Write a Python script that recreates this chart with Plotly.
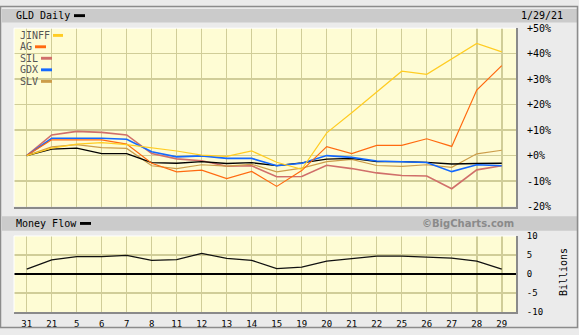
import plotly.graph_objects as go

W, H = 579, 335

dates = ["31", "21", "5", "6", "7", "8", "11", "12", "13", "14",
         "15", "19", "20", "21", "22", "25", "26", "27", "28", "29"]

gld = [0, 2.5, 2.9, 0.8, 0.8, -2.8, -3.0, -2.4, -3.1, -2.8,
       -3.9, -2.9, -1.4, -1.1, -2.4, -2.4, -2.7, -3.3, -3.1, -3.0]
jinff = [0, 2.9, 4.5, 5.1, 4.3, 3.0, 1.8, 0.2, -0.3, 1.8,
         -2.6, -5.4, 8.9, 16.8, 25.1, 33.1, 31.9, 37.9, 44.0, 40.7]
ag = [0, 6.2, 6.2, 6.2, 4.5, -3.0, -6.4, -5.7, -9.0, -6.2,
      -12.1, -5.9, 3.5, 0.8, 4.0, 4.0, 6.6, 3.6, 25.7, 35.3]
sil = [0, 8.1, 9.5, 9.1, 8.1, 0.8, -1.3, -2.0, -4.2, -4.0,
       -8.3, -8.2, -3.8, -5.1, -6.8, -7.8, -8.0, -13.0, -5.6, -4.0]
gdx = [0, 6.8, 6.8, 6.8, 6.4, 1.5, -0.5, -0.1, -1.1, -1.1,
       -4.0, -3.0, 0.0, -0.7, -2.1, -2.5, -2.7, -6.3, -3.6, -4.0]
slv = [0, 3.4, 4.3, 3.1, 2.8, -4.0, -5.1, -3.6, -4.1, -3.4,
       -6.4, -4.9, -2.4, -1.5, -3.9, -4.2, -3.6, -4.6, 0.7, 2.1]
money_flow = [1.3, 3.7, 4.6, 4.6, 4.9, 3.6, 3.8, 5.4, 4.1, 3.6,
              1.4, 1.8, 3.4, 4.0, 4.7, 4.7, 4.4, 4.2, 3.4, 1.3]

pct_ticks = [-20, -10, 0, 10, 20, 30, 40, 50]
pct_text = ["-20%", "-10%", "+0%", "+10%", "+20%", "+30%", "+40%", "+50%"]
mf_ticks = [-10, -5, 0, 5, 10]
mf_text = ["-10", "-5", "0", "5", "10"]

series = [
    ("SIL", sil, "#d06f6a", 1.6),
    ("SLV", slv, "#cc9d4a", 1.2),
    ("GLD", gld, "#000000", 1.3),
    ("GDX", gdx, "#1469ff", 1.6),
    ("AG", ag, "#ff6a10", 1.2),
    ("JINFF", jinff, "#ffcc22", 1.2),
]

idx = list(range(len(dates)))

BG = "#ebebeb"
BAND = "#cbcbcb"
PLOTBG = "#fefcd4"
GRID = "#d0cd98"
EDGE = "#8a8a8a"
MONO = "DejaVu Sans Mono"

fig = go.Figure()
for name, vals, col, w in series:
    fig.add_trace(go.Scatter(x=idx, y=vals, mode="lines", name=name,
                             line=dict(color=col, width=w),
                             xaxis="x", yaxis="y", hoverinfo="skip"))
fig.add_trace(go.Scatter(x=idx, y=money_flow, mode="lines", name="Money Flow",
                         line=dict(color="#111111", width=1.3),
                         xaxis="x2", yaxis="y2", hoverinfo="skip"))

def px_x(p):
    return p / W

def px_y(p):
    return 1 - p / H

xdom = [px_x(14), px_x(516)]
xr = [-0.508, 19.57]

common_x = dict(domain=xdom, range=xr, tickmode="array", tickvals=idx,
                showgrid=True, gridcolor=GRID, gridwidth=1.5, zeroline=False,
                showline=True, linecolor=EDGE, linewidth=2, ticks="",
                fixedrange=True)

fig.update_layout(
    width=W, height=H,
    margin=dict(l=0, r=0, t=0, b=0),
    paper_bgcolor=BG, plot_bgcolor=PLOTBG,
    showlegend=False,
    hovermode=False,
    font=dict(family=MONO, size=10, color="#000000"),
    xaxis=dict(anchor="y", showticklabels=False, **common_x),
    yaxis=dict(domain=[px_y(208), px_y(23)], range=[-20, 50], side="right",
               anchor="x", tickmode="array", tickvals=pct_ticks, ticktext=pct_text,
               showgrid=True, gridcolor=GRID, gridwidth=1.5, zeroline=False,
               showline=True, linecolor=EDGE, linewidth=2, ticks="",
               ticklabelstandoff=7, tickfont=dict(family=MONO, size=10),
               fixedrange=True),
    xaxis2=dict(anchor="y2", ticktext=dates, showticklabels=True,
                tickfont=dict(family=MONO, size=9), ticklabelstandoff=2,
                **common_x),
    yaxis2=dict(domain=[px_y(317.5), px_y(238.5)], range=[-10, 10], side="right",
                anchor="x2", tickmode="array", tickvals=mf_ticks, ticktext=mf_text,
                showgrid=True, gridcolor=GRID, gridwidth=1.5,
                zeroline=True, zerolinecolor="#000000", zerolinewidth=1.5,
                showline=True, linecolor=EDGE, linewidth=2, ticks="",
                ticklabelstandoff=7, tickfont=dict(family=MONO, size=9),
                fixedrange=True),
)

shapes = []
# outer frame
shapes.append(dict(type="rect", xref="paper", yref="paper",
                   x0=px_x(0.5), x1=px_x(577.5), y0=px_y(333.5), y1=px_y(0.5),
                   line=dict(color="#8c8c8c", width=1.5), fillcolor="rgba(0,0,0,0)",
                   layer="above"))
# title bands
for top, bot in [(3, 17), (218, 233)]:
    shapes.append(dict(type="rect", xref="paper", yref="paper",
                       x0=px_x(2), x1=px_x(577), y0=px_y(bot), y1=px_y(top),
                       line=dict(width=0), fillcolor=BAND, layer="below"))
# light top/left plot edges
for top, bot in [(23, 208), (238.5, 317.5)]:
    shapes.append(dict(type="line", xref="paper", yref="paper",
                       x0=px_x(14), x1=px_x(14), y0=px_y(bot), y1=px_y(top),
                       line=dict(color="#ffffff", width=1), layer="above"))
    shapes.append(dict(type="line", xref="paper", yref="paper",
                       x0=px_x(14), x1=px_x(516), y0=px_y(top), y1=px_y(top),
                       line=dict(color="#ffffff", width=1), layer="above"))

# legend swatches
def swatch(x0, x1, yc, col, h=3):
    shapes.append(dict(type="rect", xref="paper", yref="paper",
                       x0=px_x(x0), x1=px_x(x1), y0=px_y(yc + h / 2), y1=px_y(yc - h / 2),
                       line=dict(width=0), fillcolor=col, layer="above"))

swatch(74, 85, 10, "#000000")
swatch(80, 91, 225.5, "#000000")
legend_items = [
    ("JINFF", "#ffcc22", 30.5, 53, 63),
    ("AG", "#ff6a10", 42.3, 35, 46),
    ("SIL", "#d06f6a", 54.2, 41, 52),
    ("GDX", "#1469ff", 66.2, 41, 52),
    ("SLV", "#cc9d4a", 78.2, 41, 52),
]
for name, col, yc, sx0, sx1 in legend_items:
    swatch(sx0, sx1, yc, col)

fig.update_layout(shapes=shapes)

ann = []
def text(x, y, s, anchor="left", size=10, color="#000000", family=MONO, angle=0):
    ann.append(dict(xref="paper", yref="paper", x=px_x(x), y=px_y(y), text=s,
                    showarrow=False, xanchor=anchor, yanchor="middle",
                    font=dict(family=family, size=size, color=color),
                    textangle=angle))

text(14, 10, "GLD Daily")
text(565, 10, "1/29/21", anchor="right")
text(14, 225.5, "Money Flow")
text(516, 225.5, "<b>©BigCharts.com</b>", anchor="right", size=10,
     color="#8a8a8a", family="DejaVu Sans")
for name, col, yc, sx0, sx1 in legend_items:
    text(18, yc, name, color="#555555")
text(563, 276, "Billions", anchor="center", size=10, angle=-90)

fig.update_layout(annotations=ann)

fig.write_html("out.html", config={"displayModeBar": False, "staticPlot": True})
